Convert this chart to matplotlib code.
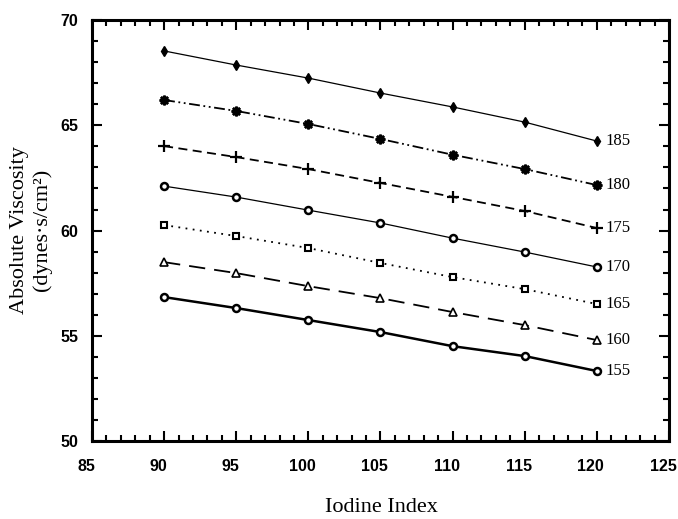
import matplotlib.pyplot as plt
import matplotlib.transforms as mtransforms
from matplotlib.ticker import MultipleLocator

iodine = [90, 95, 100, 105, 110, 115, 120]
temps = ["185", "180", "175", "170", "165", "160", "155"]
v185 = [68.53, 67.86, 67.24, 66.53, 65.87, 65.15, 64.25]
v180 = [66.20, 65.68, 65.06, 64.35, 63.60, 62.92, 62.16]
v175 = [64.01, 63.49, 62.92, 62.26, 61.60, 60.93, 60.12]
v170 = [62.11, 61.59, 60.97, 60.36, 59.64, 58.98, 58.27]
v165 = [60.26, 59.74, 59.17, 58.46, 57.79, 57.22, 56.51]
v160 = [58.50, 57.98, 57.36, 56.79, 56.13, 55.51, 54.80]
v155 = [56.84, 56.32, 55.75, 55.18, 54.51, 54.04, 53.33]

series = [v185, v180, v175, v170, v165, v160, v155]
styles = [
    dict(ls='-', lw=0.9, marker='d', ms=5, mfc='k'),
    dict(ls=(0, (6, 2, 1, 2, 1, 2)), lw=1.3, marker=(8, 2, 0), ms=7, mew=1.8),
    dict(ls=(0, (5, 3)), lw=1.3, marker='+', ms=8, mew=1.6),
    dict(ls='-', lw=0.9, marker='o', ms=5, mfc='white', mew=1.8),
    dict(ls=(0, (1, 3)), lw=1.3, marker='s', ms=4.5, mfc='white', mew=1.5),
    dict(ls=(0, (9, 5)), lw=1.3, marker='^', ms=5.5, mfc='white', mew=1.2),
    dict(ls='-', lw=1.8, marker='o', ms=5, mfc='white', mew=1.8),
]

fig = plt.figure(figsize=(6.78, 5.19), dpi=100)
ax = fig.add_axes([0.1357, 0.150, 0.851, 0.8115])

for vals, st, t in zip(series, styles, temps):
    ax.plot(iodine, vals, color='k', **st)
    ax.annotate(t, (iodine[-1], vals[-1]), xytext=(6, 0), textcoords='offset points',
                va='center', ha='left', fontsize=12, family='Liberation Serif')

ax.set_xlim(85, 125)
ax.set_ylim(50, 70)
ax.xaxis.set_major_locator(MultipleLocator(5))
ax.xaxis.set_minor_locator(MultipleLocator(1))
ax.yaxis.set_major_locator(MultipleLocator(5))
ax.yaxis.set_minor_locator(MultipleLocator(1))
ax.tick_params(which='both', direction='in', top=True, right=True, width=1.5)
ax.tick_params(which='major', length=7)
ax.tick_params(which='minor', length=4)
ax.tick_params(axis='x', which='major', pad=13)
ax.tick_params(axis='y', which='major', pad=10)
shift = mtransforms.ScaledTranslation(-6 / 100, 0, fig.dpi_scale_trans)
for lab in ax.get_xticklabels():
    lab.set_transform(lab.get_transform() + shift)
for lab in ax.get_xticklabels() + ax.get_yticklabels():
    lab.set_fontfamily('Liberation Sans')
    lab.set_fontweight('bold')
    lab.set_fontsize(11.5)
for sp in ax.spines.values():
    sp.set_linewidth(2.2)

fig.text(381 / 678, 1 - 507 / 519, 'Iodine Index', family='Liberation Serif',
         fontsize=16, ha='center', va='center')
fig.text(31 / 678, 1 - 230 / 519, 'Absolute Viscosity\n(dynes\u00b7s/cm\u00b2)',
         family='Liberation Serif', fontsize=16, rotation=90, ha='center', va='center',
         multialignment='center')

fig.savefig('out.png', dpi=100)
